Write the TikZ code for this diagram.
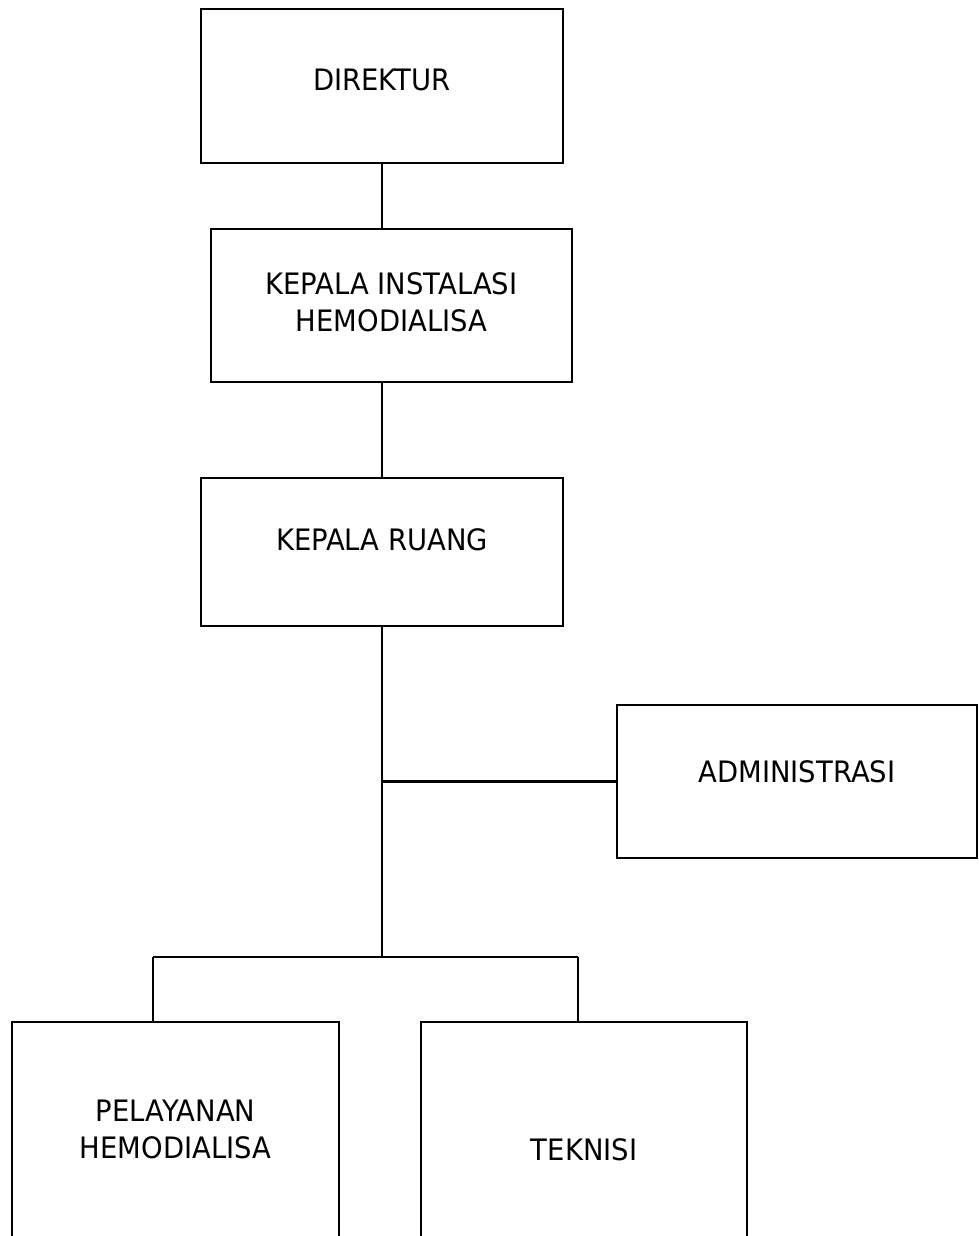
\documentclass[tikz,border=0pt]{standalone}
\usepackage{fontspec}
\setmainfont{DejaVu Sans}[FakeStretch=0.93]
\begin{document}
\begin{tikzpicture}[x=1pt,y=-1pt,
  box/.style={draw=black, line width=2.4pt, rectangle, inner sep=0pt},
  lbl/.style={align=center, inner sep=0pt, font=\fontsize{29.5}{37}\selectfont},
  wire/.style={draw=black, line width=2.4pt}]
  \useasboundingbox[fill=white] (0,0) rectangle (978,1236);

  % chain of command boxes
  \node[box, minimum width=362pt, minimum height=154pt,
        label={[lbl, yshift=6pt]center:DIREKTUR}] (dir) at (382,86) {};
  \node[box, minimum width=361pt, minimum height=153pt,
        label={[lbl, yshift=3pt]center:KEPALA INSTALASI\\HEMODIALISA}] (ki) at (391.5,305.5) {};
  \node[box, minimum width=362pt, minimum height=148pt,
        label={[lbl, yshift=12pt]center:KEPALA RUANG}] (kr) at (382,552) {};
  \node[box, minimum width=360pt, minimum height=153pt,
        label={[lbl, yshift=9.5pt]center:ADMINISTRASI}] (adm) at (797,781.5) {};
  \node[box, minimum width=327pt, minimum height=238pt,
        label={[lbl, yshift=12pt]center:PELAYANAN\\HEMODIALISA}] (pel) at (175.5,1141) {};
  \node[box, minimum width=326pt, minimum height=238pt,
        label={[lbl, yshift=-9pt]center:TEKNISI}] (tek) at (584,1141) {};

  % branch points of the lower level
  \coordinate (jL) at (153,957);
  \coordinate (jR) at (578,957);

  % connectors
  \draw[wire] (dir.south) -- (dir.south |- ki.north);
  \draw[wire] (ki.south -| dir.south) -- (kr.north);
  \draw[wire] (kr.south) -- (kr.south |- jL);
  \draw[wire] (kr.south |- adm.west) -- (adm.west);
  \draw[wire] (jL) -- (jR);
  \draw[wire] (jL) -- (jL |- pel.north);
  \draw[wire] (jR) -- (jR |- tek.north);
\end{tikzpicture}
\end{document}
